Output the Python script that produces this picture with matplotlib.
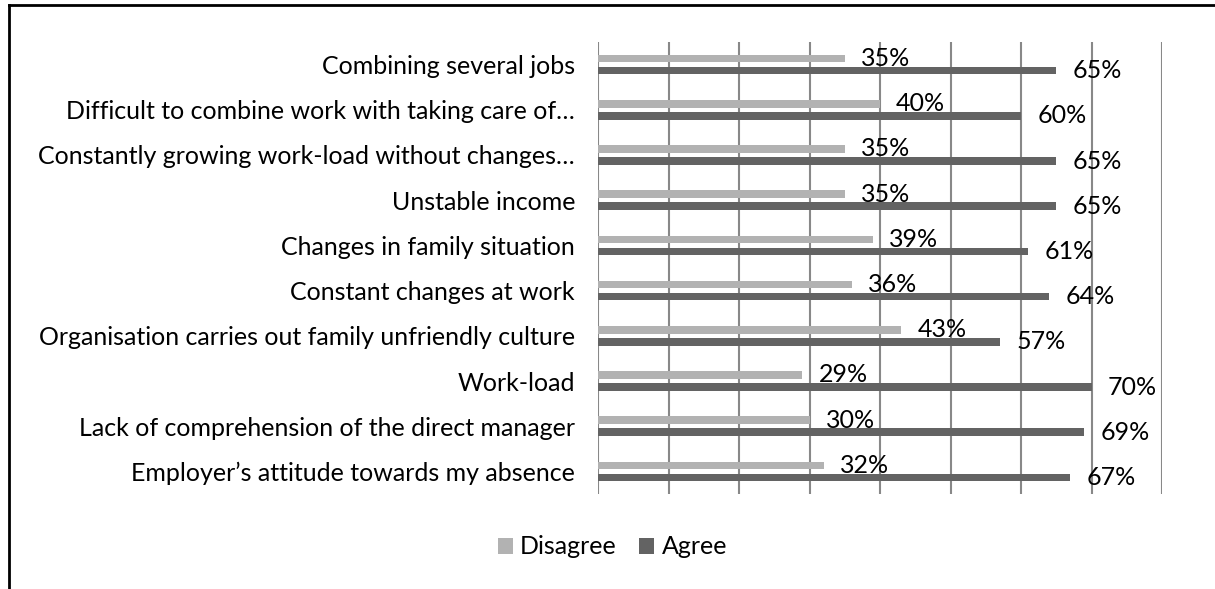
import numpy as np
import matplotlib
matplotlib.use('Agg')
from matplotlib import pyplot as plt
from matplotlib.lines import Line2D

categories = [
    'Combining several jobs',
    'Difficult to combine work with taking care of…',
    'Constantly growing work-load without changes…',
    'Unstable income',
    'Changes in family situation',
    'Constant changes at work',
    'Organisation carries out family unfriendly culture',
    'Work-load',
    'Lack of comprehension of the direct manager',
    'Employer’s attitude towards my absence',
]
disagree = [35, 40, 35, 35, 39, 36, 43, 29, 30, 32]
agree = [65, 60, 65, 65, 61, 64, 57, 70, 69, 67]

LIGHT = '#b2b2b2'
DARK = '#636363'
FONT = 'Lato'
FS = 18

fig = plt.figure(figsize=(12.15, 5.89), dpi=100)
ax = fig.add_axes([598 / 1215, 1 - 494 / 589, 564 / 1215, 452 / 589])

y = np.arange(len(categories))
off = 0.133
h = 0.17
ax.barh(y - off, disagree, height=h, color=LIGHT, label='Disagree')
ax.barh(y + off, agree, height=h, color=DARK, label='Agree')

for yi, v in zip(y, disagree):
    ax.text(v + 2.3, yi - off, f'{v}%', va='center', ha='left',
            fontsize=FS, family=FONT)
for yi, v in zip(y, agree):
    ax.text(v + 2.3, yi + off, f'{v}%', va='center', ha='left',
            fontsize=FS, family=FONT)

ax.set_xlim(0, 80)
ax.set_ylim(len(categories) - 0.5, -0.5)
ax.set_xticks(np.arange(0, 81, 10))
ax.set_xticklabels([])
ax.tick_params(axis='x', length=0)
ax.set_yticks(y)
ax.set_yticklabels(categories, fontsize=FS, family=FONT)
ax.tick_params(axis='y', length=0, pad=16.5)
ax.grid(axis='x', color='#888888', linewidth=1.5)
ax.set_axisbelow(True)
for s in ax.spines.values():
    s.set_visible(False)

fig.legend(loc='center', bbox_to_anchor=(0.5 + 5 / 1215, 1 - 547 / 589),
           ncol=2, frameon=False, prop={'family': FONT, 'size': FS},
           handlelength=0.6, handleheight=0.6, columnspacing=0.9,
           handletextpad=0.3)

# frame around the figure
fig.add_artist(Line2D([8.5 / 1215, 1.0], [1 - 4.5 / 589, 1 - 4.5 / 589],
                      transform=fig.transFigure, color='black', linewidth=2))
fig.add_artist(Line2D([8.5 / 1215, 8.5 / 1215], [0, 1 - 4.5 / 589],
                      transform=fig.transFigure, color='black', linewidth=2))

fig.savefig('out.png', dpi=100)
